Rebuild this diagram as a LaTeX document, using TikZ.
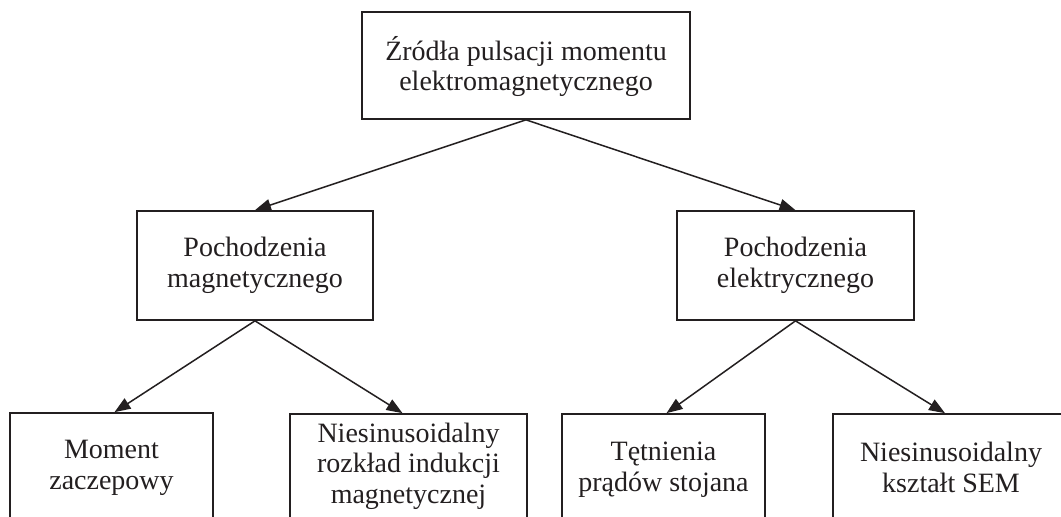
\documentclass[tikz,border=0pt]{standalone}
\usepackage{fontspec}
\setmainfont{Liberation Serif}
\usetikzlibrary{arrows.meta}
\definecolor{ink}{HTML}{231F20}
\begin{document}
\begin{tikzpicture}[x=1pt,y=-1pt,
  box/.style={draw=ink, line width=1.7pt, rectangle, inner sep=0pt, fill=white},
  label/.style={text=ink, inner sep=0pt, align=center, font=\fontsize{28}{30.5}\selectfont},
  link/.style={draw=ink, line width=1.5pt, -{Triangle[length=16pt,width=12pt]}}]
\useasboundingbox (0,0) rectangle (1061,517);
\clip (0,0) rectangle (1061,517);
\fill[white] (0,0) rectangle (1061,517);

% boxes
\node[box, minimum width=328, minimum height=107] (root) at (526,65.5) {};
\node[box, minimum width=236, minimum height=109] (mag) at (255,265.5) {};
\node[box, minimum width=237, minimum height=109] (ele) at (795.5,265.5) {};
\node[box, minimum width=203, minimum height=160] (cog) at (111.5,493) {};
\node[box, minimum width=237, minimum height=160] (ind) at (408.5,494) {};
\node[box, minimum width=203, minimum height=160] (cur) at (663.5,494) {};
\node[box, minimum width=236, minimum height=160] (emf) at (951,494) {};

% texts
\node[label] (troot) at (526,68.2) {\strut Źródła pulsacji momentu\\elektromagnetycznego\strut};
\node[label] (tmag) at (255,266) {\strut Pochodzenia\\magnetycznego\strut};
\node[label] (tele) at (795.5,266) {\strut Pochodzenia\\elektrycznego\strut};
\node[label] (tcog) at (111.5,468) {\strut Moment\\zaczepowy\strut};
\node[label] (tind) at (408.5,466.4) {\strut Niesinusoidalny\\rozkład indukcji\\magnetycznej\strut};
\node[label] (tcur) at (663.5,470) {\strut Tętnienia\\prądów stojana\strut};
\node[label] (temf) at (951,471) {\strut Niesinusoidalny\\kształt SEM\strut};

% connectors
\draw[link] (root.south) -- (mag.north);
\draw[link] (root.south) -- (ele.north);
\draw[link] (mag.south) -- ([xshift=3pt]cog.north);
\draw[link] (mag.south) -- ([xshift=-6pt]ind.north);
\draw[link] (ele.south) -- ([xshift=3pt]cur.north);
\draw[link] (ele.south) -- ([xshift=-6pt]emf.north);
\end{tikzpicture}
\end{document}
